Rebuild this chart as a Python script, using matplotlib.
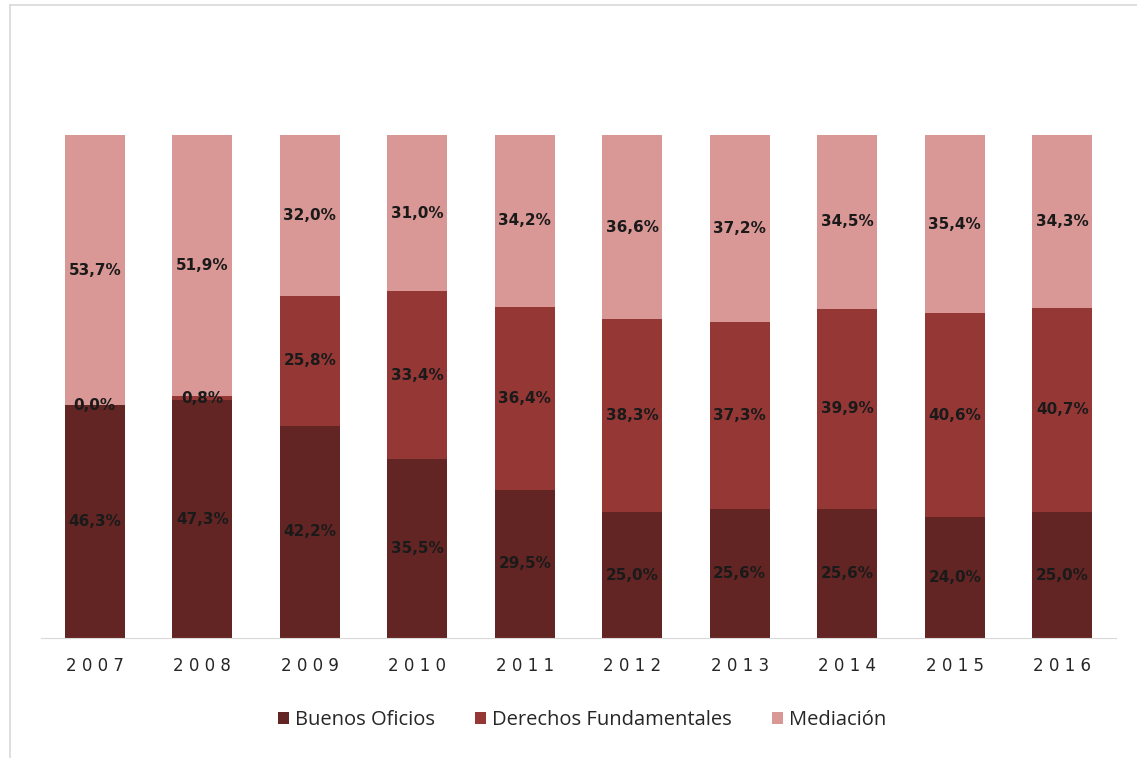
import matplotlib
matplotlib.use("Agg")
import matplotlib.pyplot as plt
from matplotlib.lines import Line2D
import numpy as np

years = ["2007", "2008", "2009", "2010", "2011", "2012", "2013", "2014", "2015", "2016"]
buenos_oficios = [46.3, 47.3, 42.2, 35.5, 29.5, 25.0, 25.6, 25.6, 24.0, 25.0]
derechos_fund = [0.0, 0.8, 25.8, 33.4, 36.4, 38.3, 37.3, 39.9, 40.6, 40.7]
mediacion = [53.7, 51.9, 32.0, 31.0, 34.2, 36.6, 37.2, 34.5, 35.4, 34.3]

series = [
    ("Buenos Oficios", buenos_oficios, "#632523"),
    ("Derechos Fundamentales", derechos_fund, "#953735"),
    ("Mediación", mediacion, "#D99795"),
]

fig = plt.figure(figsize=(11.37, 7.58), dpi=100)
ax = fig.add_axes([41 / 1137, 120 / 758, 1075 / 1137, 503 / 758])

# 100% stacked: heights are normalised so every column reaches the top
totals = np.sum([s[1] for s in series], axis=0)
x = np.arange(len(years))
bottom = np.zeros(len(years))
for name, vals, color in series:
    vals = np.array(vals)
    h = vals / totals * 100
    ax.bar(x, h, width=0.56, bottom=bottom, color=color, label=name, zorder=2)
    for xi, b, hv, v in zip(x, bottom, h, vals):
        ax.text(xi, b + hv / 2, f"{v:.1f}%".replace(".", ","), ha="center", va="center",
                fontsize=11, fontweight="bold", color="#1a1a1a", zorder=3)
    bottom += h

ax.set_xlim(-0.5, len(years) - 0.5)
ax.set_ylim(0, 100)
ax.set_yticks([])
ax.set_xticks(x)
ax.set_xticklabels([" ".join(y) for y in years], fontsize=12, color="#262626")
ax.tick_params(axis="x", length=0, pad=14)
for s in ["top", "right", "left"]:
    ax.spines[s].set_visible(False)
ax.spines["bottom"].set_color("#d9d9d9")

leg = fig.legend(loc="center", bbox_to_anchor=(582 / 1137, 1 - 720 / 758), ncol=3, frameon=False,
                 prop={"family": "Open Sans", "size": 14.5}, handlelength=0.55, handleheight=0.55,
                 handletextpad=0.3, columnspacing=2.0)
for t in leg.get_texts():
    t.set_color("#262626")

# outer frame (only left and top edges visible)
fig.add_artist(Line2D([10 / 1137, 10 / 1137], [0, 1 - 5 / 758], color="#d9d9d9", lw=1.2))
fig.add_artist(Line2D([10 / 1137, 1], [1 - 5 / 758, 1 - 5 / 758], color="#d9d9d9", lw=1.2))

fig.savefig("out.png", dpi=100, facecolor="white")
